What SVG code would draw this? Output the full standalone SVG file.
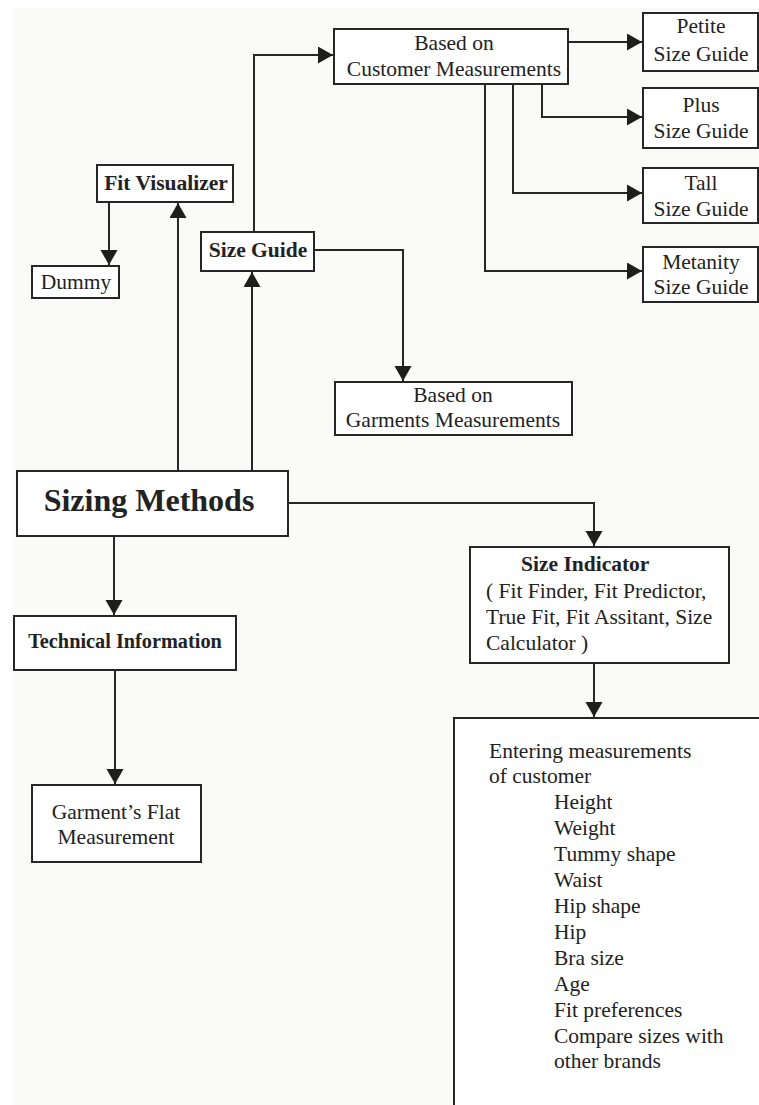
<svg xmlns="http://www.w3.org/2000/svg" width="759" height="1105" viewBox="0 0 759 1105">
<style>
.bx{fill:#fff;stroke:#262626;stroke-width:2}
.t{font-family:"Liberation Serif","Times New Roman",serif;font-size:21.5px;fill:#222}
.b{font-weight:bold}
.c{text-anchor:middle}
.ln{fill:none;stroke:#262626;stroke-width:2}
</style>
<defs>
<marker id="ah" markerUnits="userSpaceOnUse" markerWidth="16" markerHeight="18" refX="15" refY="8.5" orient="auto">
<path d="M0,0 L15,8.5 L0,17 z" fill="#1e1e1e"/>
</marker>
</defs>
<rect x="0" y="0" width="759" height="1105" fill="#fff"/>
<rect x="12" y="8" width="747" height="1097" fill="#fafaf8"/>
<g id="connectors">
<path class="ln" d="M254,232 V55 H333" marker-end="url(#ah)"/>
<path class="ln" d="M568,42 H642" marker-end="url(#ah)"/>
<path class="ln" d="M542,84 V117 H642" marker-end="url(#ah)"/>
<path class="ln" d="M513,84 V193 H642" marker-end="url(#ah)"/>
<path class="ln" d="M485,84 V271 H642" marker-end="url(#ah)"/>
<path class="ln" d="M314,250 H403 V381" marker-end="url(#ah)"/>
<path class="ln" d="M109,202 V265" marker-end="url(#ah)"/>
<path class="ln" d="M178,471 V203" marker-end="url(#ah)"/>
<path class="ln" d="M252,471 V272" marker-end="url(#ah)"/>
<path class="ln" d="M114,536 V615" marker-end="url(#ah)"/>
<path class="ln" d="M115,670 V784" marker-end="url(#ah)"/>
<path class="ln" d="M288,503 H594 V546" marker-end="url(#ah)"/>
<path class="ln" d="M594,663 V717" marker-end="url(#ah)"/>
</g>
<g id="fit-visualizer">
<rect class="bx" x="97" y="165" width="136" height="37"/>
<text class="t b c" x="166" y="190">Fit Visualizer</text>
</g>
<g id="dummy">
<rect class="bx" x="32" y="266" width="87" height="32"/>
<text class="t c" x="76" y="289">Dummy</text>
</g>
<g id="size-guide">
<rect class="bx" x="201" y="232" width="113" height="39"/>
<text class="t b c" x="258" y="257">Size Guide</text>
</g>
<g id="customer-measurements">
<rect class="bx" x="334" y="29" width="234" height="55"/>
<text class="t c" x="454" y="50">Based on</text>
<text class="t c" x="454" y="76">Customer Measurements</text>
</g>
<g id="petite">
<rect class="bx" x="643" y="13" width="115" height="58"/>
<text class="t c" x="701" y="33">Petite</text>
<text class="t c" x="701" y="61">Size Guide</text>
</g>
<g id="plus">
<rect class="bx" x="643" y="88" width="115" height="60"/>
<text class="t c" x="701" y="112">Plus</text>
<text class="t c" x="701" y="138">Size Guide</text>
</g>
<g id="tall">
<rect class="bx" x="643" y="168" width="115" height="55"/>
<text class="t c" x="701" y="190">Tall</text>
<text class="t c" x="701" y="216">Size Guide</text>
</g>
<g id="metanity">
<rect class="bx" x="643" y="247" width="115" height="55"/>
<text class="t c" x="701" y="269">Metanity</text>
<text class="t c" x="701" y="294">Size Guide</text>
</g>
<g id="garments-measurements">
<rect class="bx" x="335" y="382" width="237" height="53"/>
<text class="t c" x="453" y="402">Based on</text>
<text class="t c" x="453" y="427">Garments Measurements</text>
</g>
<g id="sizing-methods">
<rect class="bx" x="17" y="471" width="271" height="65"/>
<text class="t b c" x="149" y="511" style="font-size:32px">Sizing Methods</text>
</g>
<g id="technical-information">
<rect class="bx" x="14" y="616" width="222" height="54"/>
<text class="t b c" x="125" y="648" style="font-size:20.3px">Technical Information</text>
</g>
<g id="flat-measurement">
<rect class="bx" x="32" y="785" width="169" height="77"/>
<text class="t c" x="116" y="819">Garment’s Flat</text>
<text class="t c" x="116" y="844">Measurement</text>
</g>
<g id="size-indicator">
<rect class="bx" x="470" y="547" width="259" height="116"/>
<text class="t b" x="521" y="571">Size Indicator</text>
<text class="t" x="486" y="598">( Fit Finder, Fit Predictor,</text>
<text class="t" x="486" y="624">True Fit, Fit Assitant, Size</text>
<text class="t" x="486" y="650">Calculator )</text>
</g>
<g id="entering-measurements">
<rect class="bx" x="454" y="718" width="400" height="500"/>
<text class="t" x="489" y="758">Entering measurements</text>
<text class="t" x="489" y="783">of customer</text>
<text class="t" x="554" y="809">Height</text>
<text class="t" x="554" y="835">Weight</text>
<text class="t" x="554" y="861">Tummy shape</text>
<text class="t" x="554" y="887">Waist</text>
<text class="t" x="554" y="913">Hip shape</text>
<text class="t" x="554" y="939">Hip</text>
<text class="t" x="554" y="965">Bra size</text>
<text class="t" x="554" y="991">Age</text>
<text class="t" x="554" y="1017">Fit preferences</text>
<text class="t" x="554" y="1043">Compare sizes with</text>
<text class="t" x="554" y="1068">other brands</text>
</g>
</svg>
